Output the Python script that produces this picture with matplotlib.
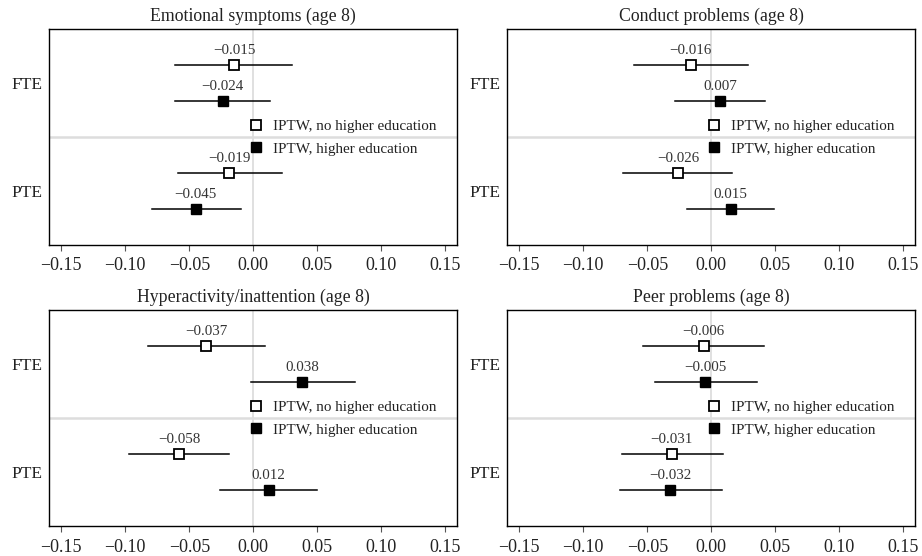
import numpy as np
import matplotlib.pyplot as plt

plt.rcParams['font.family'] = ['Liberation Serif', 'DejaVu Serif']

# Data: point estimates and 95% CI per panel, order = FTE no HE, FTE HE, PTE no HE, PTE HE
titles = ['Emotional symptoms (age 8)', 'Conduct problems (age 8)',
          'Hyperactivity/inattention (age 8)', 'Peer problems (age 8)']
est = [[-0.015, -0.024, -0.019, -0.045],
       [-0.016, 0.007, -0.026, 0.015],
       [-0.037, 0.038, -0.058, 0.012],
       [-0.006, -0.005, -0.031, -0.032]]
lo = [[-0.061, -0.061, -0.059, -0.079],
      [-0.060, -0.028, -0.069, -0.019],
      [-0.082, -0.002, -0.097, -0.026],
      [-0.053, -0.044, -0.070, -0.071]]
hi = [[0.030, 0.013, 0.022, -0.010],
      [0.029, 0.042, 0.016, 0.049],
      [0.009, 0.079, -0.019, 0.050],
      [0.041, 0.036, 0.009, 0.008]]
groups = ['IPTW, no higher education', 'IPTW, higher education']
rows = ['FTE', 'PTE']
xticks = [-0.15, -0.10, -0.05, 0.00, 0.05, 0.10, 0.15]

ypos = [0.833, 0.667, 0.333, 0.167]
filled = [False, True, False, True]


def fmt(v, nd):
    # unicode minus like the original
    s = ('%.' + str(nd) + 'f') % abs(v)
    return ('\u2212' + s) if v < 0 else s


fig = plt.figure(figsize=(9.22, 5.56), dpi=100)
boxes = [(49, 29), (507, 29), (49, 310), (507, 310)]
W, H = 922, 556

for k in range(4):
    x0, y0 = boxes[k]
    ax = fig.add_axes([x0 / W, 1 - (y0 + 216) / H, 408 / W, 216 / H])
    ax.axvline(0, color='#dddddd', lw=1.3, zorder=0)
    ax.axhline(0.5, color='#dddddd', lw=1.8, zorder=0)
    for i in range(4):
        ax.plot([lo[k][i], hi[k][i]], [ypos[i], ypos[i]], color='black', lw=1.1, zorder=2)
        if filled[i]:
            ax.plot(est[k][i], ypos[i], 's', ms=7.5, mfc='black', mec='black', zorder=3)
        else:
            ax.plot(est[k][i], ypos[i], 's', ms=6.5, mfc='white', mec='black', mew=1.3, zorder=3)
        ax.annotate(fmt(est[k][i], 3), (est[k][i], ypos[i]), xytext=(0, 6),
                    textcoords='offset points', ha='center', va='bottom',
                    fontsize=10.8, color='#333333')
    # legend
    h1, = ax.plot([], [], 's', ms=6.5, mfc='white', mec='black', mew=1.3)
    h2, = ax.plot([], [], 's', ms=7.5, mfc='black', mec='black')
    ax.legend([h1, h2], groups, loc='center left', bbox_to_anchor=(0.478, 0.497),
              frameon=False, fontsize=10.9, handlelength=0.6, handletextpad=0.8,
              labelspacing=0.58, borderpad=0, labelcolor='#222222')
    ax.set_xlim(-0.1595, 0.159)
    ax.set_ylim(0, 1)
    ax.set_xticks(xticks)
    ax.set_xticklabels([fmt(t, 2) for t in xticks])
    ax.set_yticks([0.75, 0.25])
    ax.set_yticklabels(rows)
    ax.tick_params(axis='x', length=4, color='#555555', labelsize=13, pad=5, labelcolor='#222222')
    ax.tick_params(axis='y', length=0, labelsize=12.5, pad=5, labelcolor='#222222')
    for s in ax.spines.values():
        s.set_linewidth(1.0)
    ax.set_title(titles[k], fontsize=12.8, pad=6, color='#222222')

fig.savefig('out.png', dpi=100)
